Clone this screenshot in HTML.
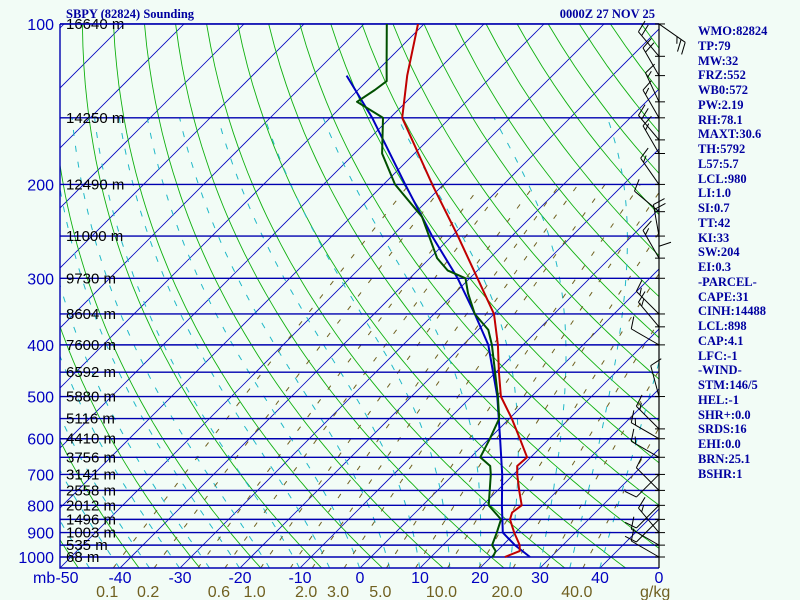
<!DOCTYPE html>
<html><head><meta charset="utf-8"><style>
html,body{margin:0;padding:0;background:#f2fcf6;}
#wrap{position:relative;width:800px;height:600px;overflow:hidden;background:#f2fcf6;font-family:"Liberation Sans",sans-serif;}
svg{position:absolute;left:0;top:0;}
.info{position:absolute;left:698px;font:bold 12.5px "Liberation Serif",serif;color:#0000a0;line-height:14.75px;top:24px;}
</style></head><body>
<div id="wrap">
<svg id="svg" width="800" height="600"></svg>
<div class="info">
WMO:82824<br>TP:79<br>MW:32<br>FRZ:552<br>WB0:572<br>PW:2.19<br>RH:78.1<br>MAXT:30.6<br>TH:5792<br>L57:5.7<br>LCL:980<br>LI:1.0<br>SI:0.7<br>TT:42<br>KI:33<br>SW:204<br>EI:0.3<br>-PARCEL-<br>CAPE:31<br>CINH:14488<br>LCL:898<br>CAP:4.1<br>LFC:-1<br>-WIND-<br>STM:146/5<br>HEL:-1<br>SHR+:0.0<br>SRDS:16<br>EHI:0.0<br>BRN:25.1<br>BSHR:1
</div>
</div>
<script>
const tempP=[100,125,150,200,250,300,350,400,450,500,550,600,650,675,700,750,800,825,850,900,950,975,1000];
const tempT=[-81,-74.2,-68,-51.9,-39,-28.7,-20,-14.2,-9.5,-5.1,0.4,5.1,9.4,9.2,10.6,13.6,16.5,16.1,16.9,19.8,22.8,23.8,22.3];
const dewP=[100,120,128,133,140,150,175,200,230,275,290,300,320,350,375,400,500,550,600,650,675,700,800,850,900,950,975,1000];
const dewT=[-86.2,-79.2,-76.7,-77.2,-78.2,-71.2,-65.4,-58.1,-48.2,-38.8,-35,-30.7,-27.8,-23.2,-18.3,-15.2,-5.6,-1.7,0.1,1.6,4.7,6.2,11,15.4,16.9,18.2,19.8,20.3];
const parP=[125,150,200,250,300,350,400,500,600,700,800,900,950,1000];
const parT=[-84.3,-73,-56.4,-43.3,-32,-23.2,-15.8,-5.7,1.8,8.1,13.2,17.9,22,26.5];
const levelP=[100,150,200,250,300,350,400,450,500,550,600,650,700,750,800,850,900,950,1000];
const levelH=["16640","14250","12490","11000","9730","8604","7600","6592","5880","5116","4410","3756","3141","2558","2012","1496","1003","535","68"];
const pLabels=[100,200,300,400,500,600,700,800,900,1000];
const tTicks=[-50,-40,-30,-20,-10,0,10,20,30,40];
const wLabels=["0.1","0.2","0.6","1.0","2.0","3.0","5.0","10.0","20.0","40.0"];
const windP=[100,115,125,140,150,165,175,200,225,250,275,300,350,370,400,500,575,600,650,700,750,800,850,900,950,1000];
const windDir=[125,320,330,335,330,320,330,325,310,350,330,0,315,320,300,345,315,300,300,225,315,225,225,320,300,300];
const windKt=[25,20,20,15,15,20,15,15,10,20,15,10,15,15,10,10,15,15,15,10,10,10,10,15,10,10];

const L=60,R=659,T0=24,B=568;
const y=p=>557-231.5*Math.log(1000/p);
const x=(t,p)=>60+(t+50)*6+(B-y(p));
const NS='http://www.w3.org/2000/svg';
const svg=document.getElementById('svg');
function el(tag,attrs,parent){const e=document.createElementNS(NS,tag);for(const k in attrs)e.setAttribute(k,attrs[k]);(parent||svg).appendChild(e);return e;}
const defs=el('defs',{});
const cp=el('clipPath',{id:'clip'},defs);el('rect',{x:L,y:T0,width:R-L,height:B-T0},cp);
const bg=el('g',{'clip-path':'url(#clip)'});


function pathFrom(pts){return 'M'+pts.map(q=>q[0].toFixed(1)+','+q[1].toFixed(1)).join('L');}
for(let t=-160;t<=50;t+=10){const pa=1050,pb=95;
 const l=el('line',{x1:x(t,pa),y1:y(pa),x2:x(t,pb),y2:y(pb),stroke:'#0000c0','stroke-width':0.8},bg);
 }
for(let th=183.15;th<=503.15;th+=10){const pts=[];for(let p=1060;p>=95;p-=10){const t=th*Math.pow(p/1000,0.286)-273.15;pts.push([x(t,p),y(p)]);}
 const e=el('path',{d:pathFrom(pts),fill:'none',stroke:'#10b010','stroke-width':0.9},bg);
 }
function es(t){return 6.112*Math.exp(17.67*t/(t+243.5));}
for(let t0=-45;t0<=40;t0+=5){let t=t0,pts=[];for(let p=1050;p>=150;p-=5){pts.push([x(t,p),y(p)]);
 const tk=t+273.15,ws=0.622*es(t)/(p-es(t)),Lv=2.5e6,Rd=287,cp=1004,eps=0.622;
 const g=(Rd*tk+Lv*ws)/(cp+Lv*Lv*ws*eps/(Rd*tk*tk))/p;t-=g*5;}
 const e=el('path',{d:pathFrom(pts),fill:'none',stroke:'#20b8c8','stroke-width':1,'stroke-dasharray':'6,10'},bg);
 }
const wVals=[0.1,0.2,0.4,0.6,1,1.5,2,3,5,7,10,14,20,28,40];
wVals.forEach(w=>{const pts=[];for(let p=1050;p>=200;p-=10){const e=w*p/(622+w),ln=Math.log(e/6.112),td=243.5*ln/(17.67-ln);pts.push([x(td,p),y(p)]);}
 const e=el('path',{d:pathFrom(pts),fill:'none',stroke:'#706020','stroke-width':1,'stroke-dasharray':'5,12'},bg);
 });
levelP.forEach((p,i)=>{const l=el('line',{x1:L,y1:y(p),x2:R,y2:y(p),stroke:'#0000b0','stroke-width':1.4});
 
 const t=el('text',{x:66,y:y(p)+5,'font-size':15,fill:'#000','font-family':'Liberation Sans, sans-serif'});t.textContent=levelH[i]+' m';
 });
const fr=el('path',{d:`M${L},${T0}H${R}M${L},${T0}V${B}H${R}`,fill:'none',stroke:'#0000b0','stroke-width':1.4});

const ra=el('line',{x1:R,y1:T0,x2:R,y2:B,stroke:'#000','stroke-width':1.2});

pLabels.forEach(p=>{const t=el('text',{x:54,y:y(p)+6,'font-size':16,fill:'#0000c0','text-anchor':'end','font-family':'Liberation Sans, sans-serif'});t.textContent=p;
 });
const mb=el('text',{x:33,y:583,'font-size':16,fill:'#0000c0','font-family':'Liberation Sans, sans-serif'});mb.textContent='mb';

tTicks.forEach(tv=>{const t=el('text',{x:60+(tv+50)*6+(tv===-50?7:0),y:583,'font-size':16,fill:'#0000c0','text-anchor':'middle','font-family':'Liberation Sans, sans-serif'});t.textContent=tv;
 });
const t50=el('text',{x:659,y:583,'font-size':16,fill:'#0000c0','text-anchor':'middle','font-family':'Liberation Sans, sans-serif'});t50.textContent='0';

wLabels.forEach(w=>{const wv=parseFloat(w),p=1049,e=wv*p/(622+wv),ln=Math.log(e/6.112),td=243.5*ln/(17.67-ln);
 const t=el('text',{x:x(td,p)-6,y:597,'font-size':16,fill:'#706020','text-anchor':'middle','font-family':'Liberation Sans, sans-serif'});t.textContent=w;
 });
const gk=el('text',{x:640,y:597,'font-size':16,fill:'#706020','font-family':'Liberation Sans, sans-serif'});gk.textContent='g/kg';

const ti=el('text',{x:66,y:18,'font-size':12.5,'font-weight':'bold',fill:'#0000a0','font-family':'Liberation Serif, serif'});ti.textContent='SBPY (82824) Sounding';

const dt=el('text',{x:655,y:18,'font-size':12.5,'font-weight':'bold',fill:'#0000a0','text-anchor':'end','font-family':'Liberation Serif, serif'});dt.textContent='0000Z 27 NOV 25';

const prof=el('g',{'clip-path':'url(#clip)'});
function line(P,Tt,color,name){const e=el('path',{d:pathFrom(P.map((p,i)=>[x(Tt[i],p),y(p)])),fill:'none',stroke:color,'stroke-width':2,'stroke-linejoin':'round'},prof);
 }
line(parP,parT,'#0000c0','parcel-trace');
line(dewP,dewT,'#005000','dewpoint-line');
line(tempP,tempT,'#c00000','temperature-line');
const wg=el('g',{});

windP.forEach((p,i)=>{const yy=y(p),a=windDir[i]*Math.PI/180,Ls=32;
 const tk=el('line',{x1:R-4,y1:yy,x2:R+6,y2:yy,stroke:'#000'},wg);
 
 const sx=Math.sin(a),sy=-Math.cos(a),ex=R+Ls*sx,ey=yy+Ls*sy;
 const st=el('line',{x1:R,y1:yy,x2:ex,y2:ey,stroke:'#000'},wg);
 
 let s=windKt[i],k=0;const px=-sy,py=sx;
 while(s>=5){const f=s>=10?12:6;const bx=ex-sx*k*5,by=ey-sy*k*5;
  const b=el('line',{x1:bx,y1:by,x2:bx+px*f+sx*4,y2:by+py*f+sy*4,stroke:'#000'},wg);
  
  s-=s>=10?10:5;k++;}
});
</script>
</body></html>
